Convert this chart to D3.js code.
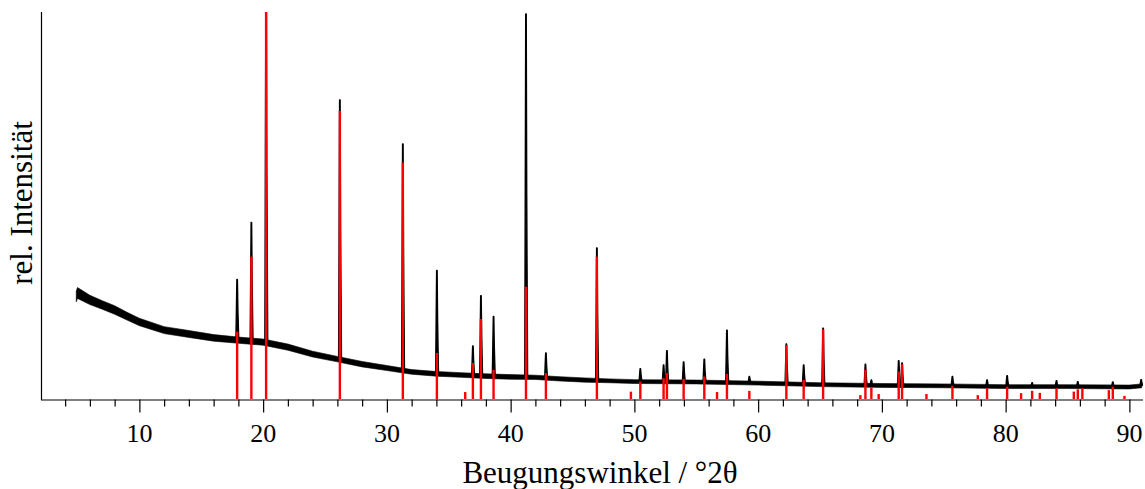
<!DOCTYPE html>
<html>
<head>
<meta charset="utf-8">
<script src="https://cdn.jsdelivr.net/npm/d3@7"></script>
<style>
  body { margin: 0; background: #fff; }
  text { font-family: "Liberation Serif", "Times New Roman", serif; fill: #000; }
</style>
</head>
<body>
<div class="chart"></div>
<script>
// background of the measured pattern (°2θ, rel. intensity) and its noise amplitude
var bgAngle = [4.9, 5, 6, 7, 8, 9, 10, 12, 14, 16, 18, 20, 22, 24, 26, 28, 30, 32, 34, 36, 38, 40, 42, 44, 46, 48, 50, 55, 60, 65, 70, 75, 80, 85, 90, 91];
var bgValue = [26.5, 27.4, 25.6, 24.3, 23.0, 21.4, 19.9, 17.8, 16.8, 15.8, 15.2, 14.7, 13.4, 11.6, 10.3, 9.0, 8.0, 7.0, 6.5, 6.2, 5.9, 5.7, 5.6, 5.2, 4.9, 4.7, 4.5, 4.4, 4.1, 3.7, 3.5, 3.4, 3.2, 3.2, 3.1, 3.4];
var bgNoise = [1.4, 1.4, 1.2, 1.1, 1.1, 1.0, 0.95, 0.9, 0.9, 0.85, 0.8, 0.8, 0.8, 0.75, 0.7, 0.7, 0.65, 0.6, 0.6, 0.6, 0.6, 0.6, 0.55, 0.55, 0.55, 0.5, 0.5, 0.5, 0.5, 0.5, 0.5, 0.5, 0.5, 0.5, 0.5, 0.5];

// measured reflections (black)
var peakAngle = [17.9, 19.05, 20.24, 26.2, 31.29, 34.04, 36.95, 37.6, 38.62, 41.24, 42.85, 46.97, 50.48, 52.36, 52.63, 53.98, 55.65, 57.48, 59.29, 62.28, 63.68, 65.25, 68.67, 69.15, 71.36, 71.63, 75.7, 78.5, 80.12, 82.14, 84.11, 85.83, 88.66, 90.95];
var peakValue = [30.9, 45.6, 104, 77.3, 65.9, 33.2, 13.7, 26.7, 21.3, 99.5, 11.9, 39.0, 7.8, 8.8, 12.5, 9.6, 10.3, 17.8, 5.8, 14.2, 8.8, 18.3, 9.0, 4.9, 9.9, 9.3, 5.8, 4.9, 6.0, 4.2, 4.7, 4.5, 4.4, 5.0];

// reference pattern (red sticks)
var refAngle = [17.9, 19.05, 20.24, 26.2, 31.29, 34.04, 36.33, 36.95, 37.6, 38.62, 41.24, 42.85, 46.97, 49.72, 50.48, 52.36, 52.63, 53.98, 55.65, 56.68, 57.48, 59.29, 62.28, 63.68, 65.25, 68.26, 68.67, 69.15, 69.74, 71.36, 71.63, 73.6, 75.7, 77.75, 78.5, 80.12, 81.25, 82.14, 82.76, 84.11, 85.51, 85.83, 86.2, 88.34, 88.66, 89.6];
var refValue = [17.4, 36.8, 100, 74.4, 61.1, 11.9, 1.8, 9.3, 20.7, 7.5, 29.0, 6.7, 36.8, 1.9, 4.5, 5.4, 6.7, 5.2, 5.8, 1.8, 6.5, 2.1, 14.0, 4.9, 18.0, 1.0, 7.5, 3.0, 1.3, 7.1, 9.0, 1.3, 3.4, 1.0, 2.8, 3.2, 1.5, 2.1, 1.6, 2.8, 1.9, 2.5, 2.8, 2.3, 3.2, 0.8];

var xTicks = [10, 20, 30, 40, 50, 60, 70, 80, 90];

var width = 1145, height = 489;
var margin = { left: 41, right: 1143, top: 12, bottom: 399 };

var svg = d3.select(".chart").append("svg")
  .attr("width", width).attr("height", height);

var x = d3.scaleLinear().domain([2.05, 91.1]).range([margin.left, margin.right]);
var y = d3.scaleLinear().domain([0, 100]).range([margin.bottom, margin.top]);
// background level at any angle, taken from the read-off points
var bgAt = d3.scaleLinear().domain(bgAngle).range(bgValue);

svg.append("clipPath").attr("id", "plot")
  .append("rect").attr("x", margin.left).attr("y", margin.top)
  .attr("width", margin.right - margin.left).attr("height", margin.bottom - margin.top + 1);

var plot = svg.append("g").attr("clip-path", "url(#plot)");

// noisy background as a band
var bg = bgAngle.map(function (a, i) { return { a: a, v: bgValue[i], n: bgNoise[i] }; });
plot.append("path")
  .datum(bg)
  .attr("fill", "#000")
  .attr("stroke", "#000")
  .attr("stroke-width", 0.6)
  .attr("d", d3.area()
    .x(function (d) { return x(d.a); })
    .y0(function (d) { return y(d.v - d.n); })
    .y1(function (d) { return y(d.v + d.n); }));

// measured peaks (main line with a Ka2 shoulder on the high-angle side)
var peaks = peakAngle.map(function (a, i) { return { a: a, v: peakValue[i] }; });
plot.append("g")
  .selectAll("path")
  .data(peaks)
  .enter()
  .append("path")
  .attr("fill", "#000")
  .attr("stroke", "#000")
  .attr("stroke-width", 1.4)
  .attr("stroke-linejoin", "round")
  .attr("d", function (d) {
    var b = bgAt(d.a);
    return d3.line()([
      [x(d.a - 0.1), y(bgAt(d.a - 0.1))],
      [x(d.a - 0.02), y(d.v)],
      [x(d.a + 0.02), y(d.v)],
      [x(d.a + 0.06), y(b + (d.v - b) * 0.5)],
      [x(d.a + 0.13), y(bgAt(d.a + 0.13))]
    ]);
  });

// reference sticks
var refs = refAngle.map(function (a, i) { return { a: a, v: refValue[i] }; });
plot.append("g")
  .selectAll("line")
  .data(refs)
  .enter()
  .append("line")
  .attr("x1", function (d) { return x(d.a); })
  .attr("x2", function (d) { return x(d.a); })
  .attr("y1", y(0))
  .attr("y2", function (d) { return y(d.v); })
  .attr("stroke", "#ff0000")
  .attr("stroke-width", 2.4);

// x axis
var xAxis = svg.append("g")
  .attr("transform", "translate(0," + (margin.bottom + 0.5) + ")")
  .call(d3.axisBottom(x)
    .tickValues(d3.range(4, 91, 2))
    .tickSize(7)
    .tickFormat(""));
xAxis.select(".domain").attr("d", "M" + margin.left + ",0.5H" + margin.right).attr("stroke", "#000").attr("stroke-width", 1.2);
xAxis.selectAll(".tick line").attr("stroke", "#000").attr("stroke-width", 1.2)
  .attr("y2", function (d) { return d % 10 === 0 ? 13 : 7; });

svg.append("g")
  .selectAll("text")
  .data(xTicks)
  .enter()
  .append("text")
  .attr("x", function (d) { return x(d); })
  .attr("y", 442)
  .attr("text-anchor", "middle")
  .style("font-size", "26px")
  .text(function (d) { return d; });

// y axis (no ticks)
svg.append("line")
  .attr("x1", margin.left + 0.5).attr("x2", margin.left + 0.5)
  .attr("y1", margin.top).attr("y2", margin.bottom + 1)
  .attr("stroke", "#000").attr("stroke-width", 1.2);

svg.append("text")
  .attr("x", 600).attr("y", 483)
  .attr("text-anchor", "middle")
  .style("font-size", "31px")
  .text("Beugungswinkel / °2θ");

svg.append("text")
  .attr("transform", "translate(32,203) rotate(-90)")
  .attr("text-anchor", "middle")
  .style("font-size", "31px")
  .text("rel. Intensität");
</script>
</body>
</html>
